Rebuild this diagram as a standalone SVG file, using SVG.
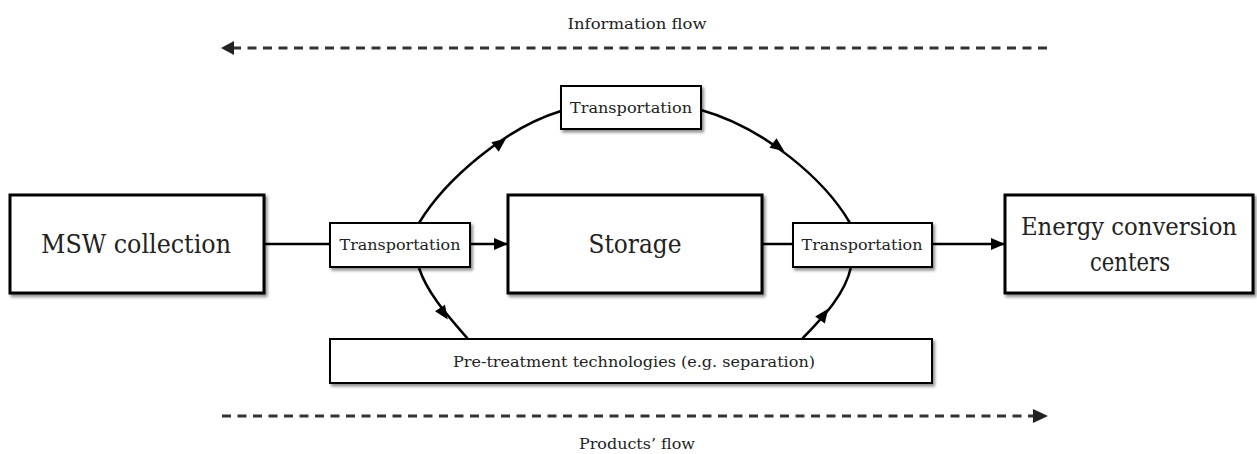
<svg xmlns="http://www.w3.org/2000/svg" width="1257" height="454" viewBox="0 0 1257 454">
<defs>
<filter id="sh" x="-5%" y="-10%" width="115%" height="130%">
<feDropShadow dx="2" dy="2.5" stdDeviation="1.5" flood-color="#000" flood-opacity="0.45"/>
</filter>
<marker id="ah" viewBox="0 0 14 12" refX="14" refY="6" markerWidth="14" markerHeight="12" markerUnits="userSpaceOnUse" orient="auto">
<path d="M0,0 L14,6 L0,12 Z" fill="#000"/>
</marker>
</defs>
<style>
.big{fill:#fff;stroke:#000;stroke-width:3}
.small{fill:#fff;stroke:#000;stroke-width:2}
.t{font-family:"DejaVu Serif","Liberation Serif",serif;fill:#222;text-anchor:middle}
.bt{font-size:26px}
.st{font-size:15.5px}
.ln{fill:none;stroke:#000;stroke-width:2.5}
.dash{fill:none;stroke:#333;stroke-width:3;stroke-dasharray:9 6.5}
</style>

<g id="connectors">
<line class="ln" x1="264" y1="244" x2="330" y2="244"/>
<line class="ln" x1="470" y1="244" x2="508" y2="244" marker-end="url(#ah)"/>
<line class="ln" x1="762" y1="244" x2="793" y2="244"/>
<line class="ln" x1="932" y1="244" x2="1005" y2="244" marker-end="url(#ah)"/>
<path class="ln" d="M419,223 C445,180 505,128 561,111"/>
<path class="ln" d="M701,110 C765,128 825,180 850,223"/>
<path class="ln" d="M419,268 C428,295 450,318 468,339"/>
<path class="ln" d="M851,267 C845,295 822,318 802,339"/>
<path d="M0,-6 L14,0 L0,6 Z" fill="#000" transform="translate(495,147) rotate(-38)"/>
<path d="M0,-6 L14,0 L0,6 Z" fill="#000" transform="translate(773,143) rotate(36)"/>
<path d="M0,-6 L14,0 L0,6 Z" fill="#000" transform="translate(440,308) rotate(56)"/>
<path d="M0,-6 L14,0 L0,6 Z" fill="#000" transform="translate(820,320) rotate(-54)"/>
</g>

<g id="info-flow">
<line class="dash" x1="1047" y1="48" x2="233" y2="48"/>
<path d="M221,48 L234,41 L234,55 Z" fill="#222"/>
<text class="t st" x="637" y="29" textLength="139" lengthAdjust="spacingAndGlyphs">Information flow</text>
</g>

<g id="products-flow">
<line class="dash" x1="222" y1="416" x2="1035" y2="416"/>
<path d="M1048,416 L1033,409 L1033,423 Z" fill="#222"/>
<text class="t st" x="637" y="449" textLength="116" lengthAdjust="spacingAndGlyphs">Products’ flow</text>
</g>

<g id="msw">
<rect class="big" x="10" y="195" width="254" height="98" filter="url(#sh)"/>
<text class="t bt" x="136" y="253" textLength="190" lengthAdjust="spacingAndGlyphs">MSW collection</text>
</g>

<g id="transport-left">
<rect class="small" x="330" y="223" width="140" height="44" filter="url(#sh)"/>
<text class="t st" x="400" y="250" textLength="121" lengthAdjust="spacingAndGlyphs">Transportation</text>
</g>

<g id="transport-top">
<rect class="small" x="561" y="86" width="140" height="43" filter="url(#sh)"/>
<text class="t st" x="631" y="113" textLength="122" lengthAdjust="spacingAndGlyphs">Transportation</text>
</g>

<g id="storage">
<rect class="big" x="508" y="195" width="254" height="98" filter="url(#sh)"/>
<text class="t bt" x="635" y="253" textLength="93" lengthAdjust="spacingAndGlyphs">Storage</text>
</g>

<g id="transport-right">
<rect class="small" x="793" y="223" width="139" height="44" filter="url(#sh)"/>
<text class="t st" x="862" y="250" textLength="121" lengthAdjust="spacingAndGlyphs">Transportation</text>
</g>

<g id="energy">
<rect class="big" x="1005" y="195" width="248" height="98" filter="url(#sh)"/>
<text class="t" style="font-size:25px" x="1129" y="235" textLength="216" lengthAdjust="spacingAndGlyphs">Energy conversion</text>
<text class="t bt" x="1130" y="271" textLength="80" lengthAdjust="spacingAndGlyphs">centers</text>
</g>

<g id="pretreatment">
<rect class="small" x="330" y="339" width="602" height="44" filter="url(#sh)"/>
<text class="t st" x="634" y="367" textLength="362" lengthAdjust="spacingAndGlyphs">Pre-treatment technologies (e.g. separation)</text>
</g>
</svg>
